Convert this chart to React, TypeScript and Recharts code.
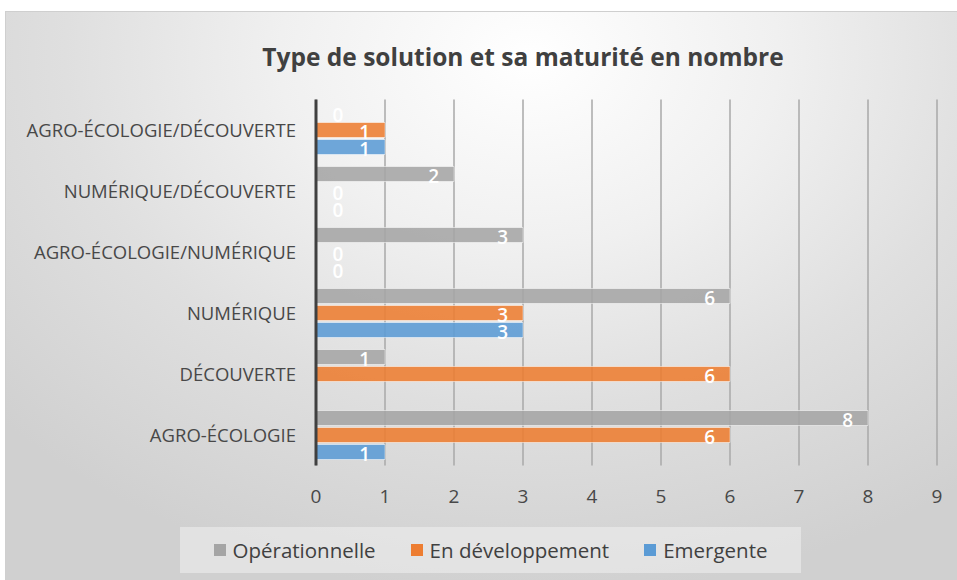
import { Bar, BarChart, CartesianGrid, XAxis, YAxis } from "recharts";

const categories = [
  "AGRO-ÉCOLOGIE", "DÉCOUVERTE", "NUMÉRIQUE",
  "AGRO-ÉCOLOGIE/NUMÉRIQUE", "NUMÉRIQUE/DÉCOUVERTE", "AGRO-ÉCOLOGIE/DÉCOUVERTE",
];
const operationnelle = [8, 1, 6, 3, 2, 0];
const enDeveloppement = [6, 6, 3, 0, 0, 1];
const emergente: (number | null)[] = [1, null, 3, 0, 0, 1];
const xTicks = [0, 1, 2, 3, 4, 5, 6, 7, 8, 9];

const series = [
  { key: "operationnelle", name: "Opérationnelle", color: "#A5A5A5" },
  { key: "enDeveloppement", name: "En développement", color: "#ED7D31" },
  { key: "emergente", name: "Emergente", color: "#5B9BD5" },
];

const data = categories.map((name, i) => ({
  name, operationnelle: operationnelle[i], enDeveloppement: enDeveloppement[i], emergente: emergente[i],
}));

const font = "'Open Sans', sans-serif";

function ValueLabel(props: any) {
  const { x, y, width, height, value } = props;
  if (value === null || value === undefined) return null;
  const v = Number(value);
  const tx = v === 0 ? x + 22 : x + width - 15;
  return <text x={tx} y={y + height / 2 + 1.5} textAnchor={v === 0 ? "middle" : "end"} dominantBaseline="central"
    fill="#ffffff" fontSize={19} fontWeight={600} fontFamily={font}>{v}</text>;
}

export default function App() {
  return <div style={{
    position: "absolute", left: 5, top: 11, width: 951, height: 568, border: "1px solid #cfcfcf", overflow: "hidden",
    background: "radial-gradient(ellipse 75% 95% at 55% 8%, #ffffff 0%, #f0f0f0 35%, #dfdfdf 65%, #d0d0d0 100%)",
    fontFamily: font,
  }}>
    <div style={{ position: "absolute", left: 0, top: 33, width: 1034, textAlign: "center", fontSize: 24.5, lineHeight: 1, fontWeight: 700, color: "#404040" }}>
      Type de solution et sa maturité en nombre
    </div>
    <BarChart width={951} height={568} data={data} layout="vertical" barSize={15} barGap={2}
      margin={{ top: 87.5, right: 20, left: 0, bottom: 74.5 }}>
      <CartesianGrid horizontal={false} vertical stroke="#a8a8a8" strokeWidth={1.5}/>
      <XAxis type="number" domain={[0, 9]} ticks={xTicks} interval={0} height={40} axisLine={false}
        tickLine={false} tickSize={5} tickMargin={19}
        tick={{ fontSize: 19, fill: "#484848", fontFamily: font }}/>
      <YAxis type="category" dataKey="name" reversed width={310} axisLine={{ stroke: "#404040", strokeWidth: 3 }}
        tickLine={false} tickSize={6} tickMargin={14} interval={0}
        tick={{ fontSize: 18.5, fill: "#484848", fontFamily: font }}/>
      {series.map((s) => <Bar key={s.key} dataKey={s.key} name={s.name} fill={s.color} fillOpacity={0.88}
        stroke="#ffffff" strokeOpacity={0.5} strokeWidth={1} minPointSize={0.01}
        isAnimationActive={false} label={<ValueLabel/>}/>)}
    </BarChart>
    <div style={{
      position: "absolute", left: 174, top: 515, width: 621, height: 46, background: "rgba(240,240,240,0.55)",
      display: "flex", alignItems: "center", justifyContent: "center", gap: 35, fontSize: 20.5, color: "#404040",
    }}>
      {series.map((s) => <span key={s.key} style={{ display: "flex", alignItems: "center" }}>
        <i style={{ display: "inline-block", width: 12, height: 12, background: s.color, marginRight: 7 }}/>
        {s.name}
      </span>)}
    </div>
  </div>;
}
